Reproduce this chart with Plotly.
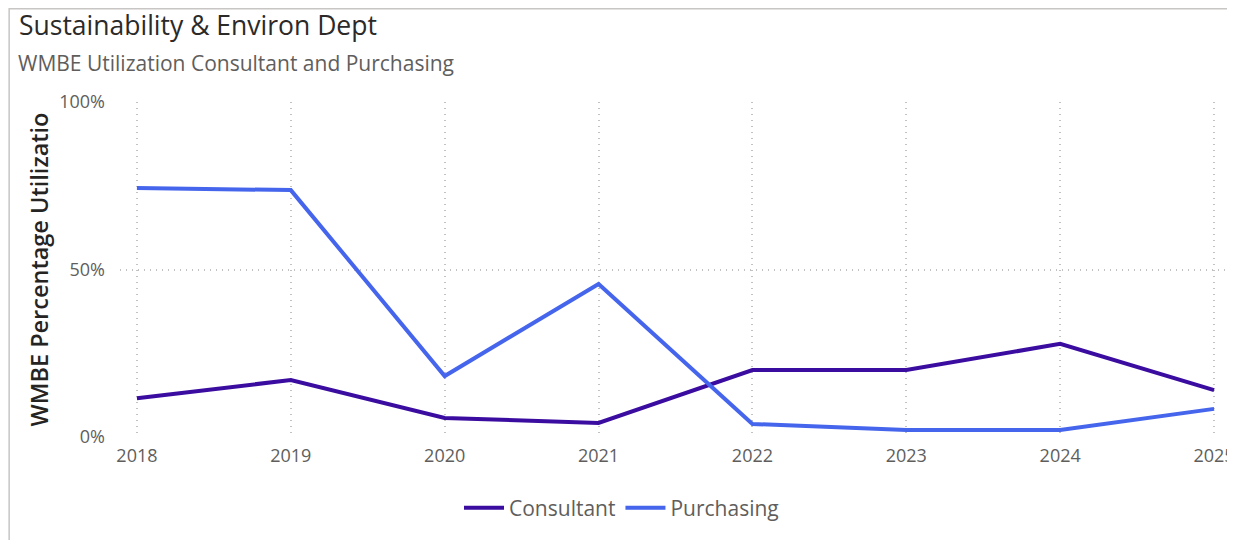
import plotly.graph_objects as go

years = [2018, 2019, 2020, 2021, 2022, 2023, 2024, 2025]
consultant = [0.116, 0.170, 0.057, 0.042, 0.200, 0.200, 0.278, 0.140]
purchasing = [0.743, 0.737, 0.182, 0.457, 0.039, 0.021, 0.021, 0.084]
y_ticks = [0, 0.5, 1.0]
y_tick_labels = ["0%", "50%", "100%"]

FONT = "Open Sans"
W, H = 1227, 532          # page body has an 8px default margin
L, T, B = 112, 94, 103
PW, PH = W - L, H - T - B

fig = go.Figure()
fig.add_trace(go.Scatter(x=years, y=consultant, name="Consultant", mode="lines",
                         line=dict(color="#3B0CA0", width=4)))
fig.add_trace(go.Scatter(x=years, y=purchasing, name="Purchasing", mode="lines",
                         line=dict(color="#4565EC", width=4)))

def px(xf):
    return (xf - L) / PW

def py(yf):
    return 1 + (T - yf) / PH

fig.update_layout(
    width=W, height=H,
    paper_bgcolor="white", plot_bgcolor="white",
    margin=dict(l=L, r=0, t=T, b=B),
    font=dict(family=FONT, color="#605E5C"),
    showlegend=True,
    legend=dict(orientation="h", x=0.5, xanchor="center", xref="container",
                y=1 - 500 / H, yanchor="middle", yref="container",
                font=dict(size=21, color="#605E5C"), itemwidth=40,
                tracegroupgap=0),
    annotations=[
        dict(text="Sustainability & Environ Dept", xref="paper", yref="paper",
             x=px(9), y=py(17), xanchor="left", yanchor="middle",
             showarrow=False, font=dict(size=26.5, color="#2B2A29", family=FONT, weight=500)),
        dict(text="WMBE Utilization Consultant and Purchasing", xref="paper", yref="paper",
             x=px(8), y=py(55), xanchor="left", yanchor="middle",
             showarrow=False, font=dict(size=21, color="#605E5C", family=FONT)),
    ],
    shapes=[
        dict(type="rect", xref="paper", yref="paper",
             x0=px(0.75), x1=px(W + 20), y0=py(H + 20), y1=py(0.75),
             line=dict(color="#C8C6C4", width=1.5), fillcolor="rgba(0,0,0,0)", layer="below"),
    ],
)
fig.update_xaxes(range=[2017.89, 2025.11], tickvals=years, ticktext=[str(y) for y in years],
                 showgrid=True, gridcolor="#C4C2C0", griddash="1px,5px", gridwidth=1.5,
                 zeroline=False, showline=False, ticks="", ticklabeloverflow="allow",
                 tickfont=dict(size=18, color="#605E5C"), ticklabelstandoff=6)
fig.update_yaxes(range=[0, 1], tickvals=y_ticks, ticktext=y_tick_labels,
                 showgrid=True, gridcolor="#C4C2C0", griddash="1px,5px", gridwidth=1.5,
                 zeroline=False, showline=False, ticks="",
                 tickfont=dict(size=18, color="#605E5C"), ticklabelstandoff=14,
                 title=dict(text="WMBE Percentage Utilizatio", standoff=4,
                            font=dict(size=23.5, color="#252423", family=FONT, weight=600)))

fig.write_html("out.html")
